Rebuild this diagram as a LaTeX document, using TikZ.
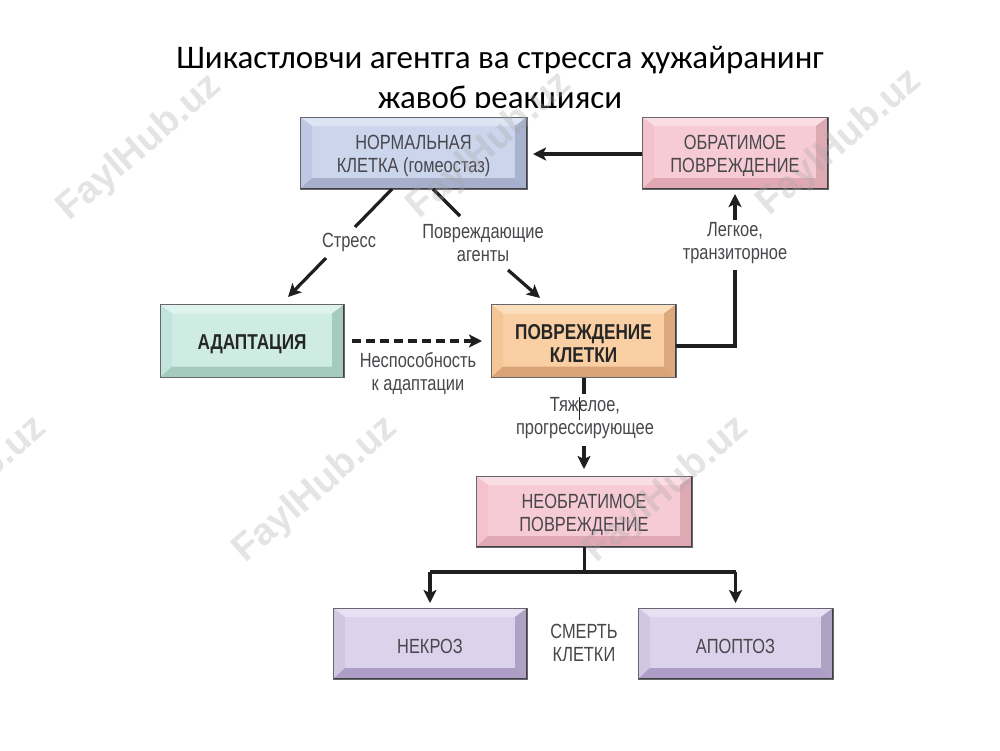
\documentclass[tikz,border=0pt]{standalone}
\usepackage{fontspec}
\setmainfont{Carlito}
\newfontfamily\lab[FakeStretch=0.8]{Liberation Sans}
\newfontfamily\wmfont{Liberation Sans}
\usetikzlibrary{arrows.meta}
\definecolor{txt}{HTML}{47474C}
\definecolor{edge}{HTML}{66666C}
\newcommand{\nudge}{\rule{0pt}{20.5pt}}
\tikzset{
  bevelbox/.style n args={7}{
    draw=edge, line width=1pt, inner sep=0pt, outer sep=0pt, align=center,
    minimum width=#1pt, minimum height=#2pt, fill=#3,
    font=\lab\fontsize{20.5}{23}\selectfont, text=txt,
    path picture={
      \coordinate (pnw) at (path picture bounding box.north west);
      \coordinate (pne) at (path picture bounding box.north east);
      \coordinate (psw) at (path picture bounding box.south west);
      \coordinate (pse) at (path picture bounding box.south east);
      \coordinate (inw) at ([shift={(12pt,-9pt)}]pnw);
      \coordinate (ine) at ([shift={(-12pt,-9pt)}]pne);
      \coordinate (isw) at ([shift={(12pt,11pt)}]psw);
      \coordinate (ise) at ([shift={(-12pt,11pt)}]pse);
      \fill[#4] (pnw) -- (pne) -- (ine) -- (inw) -- cycle;
      \fill[#5] (pnw) -- (psw) -- (isw) -- (inw) -- cycle;
      \fill[#6] (pne) -- (pse) -- (ise) -- (ine) -- cycle;
      \fill[#7] (psw) -- (pse) -- (ise) -- (isw) -- cycle;
      \draw[black!75, line width=1.8pt] (pne) -- (pse) -- (psw);
    }},
  bluebox/.style 2 args={bevelbox={#1}{#2}{blB}{blT}{blL}{blR}{blD}},
  pinkbox/.style 2 args={bevelbox={#1}{#2}{piB}{piT}{piL}{piR}{piD}},
  orangebox/.style 2 args={bevelbox={#1}{#2}{orB}{orT}{orL}{orR}{orD}},
  greenbox/.style 2 args={bevelbox={#1}{#2}{grB}{grT}{grL}{grR}{grD}},
  purplebox/.style 2 args={bevelbox={#1}{#2}{puB}{puT}{puL}{puR}{puD}},
  strong/.style={font=\lab\bfseries\fontsize{21.5}{23}\selectfont, text=black!85},
  labelnode/.style={font=\lab\fontsize{20.5}{23}\selectfont, text=txt, align=center, inner sep=0pt},
  titlenode/.style={font=\fontsize{33}{40}\selectfont, text=black, align=center, inner sep=0pt},
  conn/.style={draw=black!88, line width=3.2pt},
  arr/.style={conn, -{Stealth[length=13pt,width=13pt,inset=3pt]}},
  wmark/.style={font=\wmfont\bfseries\fontsize{38}{38}\selectfont, text=black!35, opacity=.3, rotate=41, inner sep=0pt},
}
\definecolor{blB}{HTML}{CBD5EC}\definecolor{blT}{HTML}{DDE4F3}\definecolor{blL}{HTML}{BEC8E2}\definecolor{blR}{HTML}{A9B2CF}\definecolor{blD}{HTML}{A6AFCC}
\definecolor{piB}{HTML}{F7CBD5}\definecolor{piT}{HTML}{FBDDE4}\definecolor{piL}{HTML}{F3C2CC}\definecolor{piR}{HTML}{DDA9B3}\definecolor{piD}{HTML}{E0A8B3}
\definecolor{orB}{HTML}{F9CFA3}\definecolor{orT}{HTML}{FBDEBC}\definecolor{orL}{HTML}{F3C698}\definecolor{orR}{HTML}{DCA87E}\definecolor{orD}{HTML}{DAA478}
\definecolor{grB}{HTML}{CFECE3}\definecolor{grT}{HTML}{DFF3ED}\definecolor{grL}{HTML}{C3E4DA}\definecolor{grR}{HTML}{A5CBBF}\definecolor{grD}{HTML}{A5CBBF}
\definecolor{puB}{HTML}{DDD2EB}\definecolor{puT}{HTML}{E8E1F3}\definecolor{puL}{HTML}{D2C6E2}\definecolor{puR}{HTML}{B0A2C4}\definecolor{puD}{HTML}{AE9DC6}
\begin{document}
\begin{tikzpicture}[x=1pt,y=-1pt]
\useasboundingbox (0,0) rectangle (1000,750);
\fill[white] (0,0) rectangle (1000,750);
\node[titlenode] (title) at (500,80) {Шикастловчи агентга ва стрессга ҳужайранинг\\жавоб реакцияси};
\fill[white] (250,108) rectangle (750,125);

\node[bluebox={227}{72}] (normal) at (413.5,153) {\nudge НОРМАЛЬНАЯ\\КЛЕТКА (гомеостаз)};
\node[pinkbox={186}{72}] (revers) at (735,153) {\nudge ОБРАТИМОЕ\\ПОВРЕЖДЕНИЕ};
\node[greenbox={184}{73}, strong] (adapt) at (252,341) {\nudge АДАПТАЦИЯ};
\node[orangebox={185}{73}, strong] (injury) at (583.5,341) {\nudge ПОВРЕЖДЕНИЕ\\КЛЕТКИ};
\node[pinkbox={216}{71}] (irrev) at (584,511.5) {\nudge НЕОБРАТИМОЕ\\ПОВРЕЖДЕНИЕ};
\node[purplebox={194}{71}] (necro) at (430,643.5) {\nudge НЕКРОЗ};
\node[purplebox={195}{71}] (apop) at (735.5,643.5) {\nudge АПОПТОЗ};

\node[labelnode] (lstress) at (349,242) {Стресс};
\node[labelnode] (lagents) at (483,243) {Повреждающие\\агенты};
\node[labelnode] (llight) at (735,243) {Легкое,\\транзиторное};
\node[labelnode] (lfail) at (418,374) {Неспособность\\к адаптации};
\node[labelnode] (lsevere) at (585,418.5) {Тяжелое,\\прогрессирующее};
\node[labelnode] (ldeath) at (584,643) {СМЕРТЬ\\КЛЕТКИ};

\coordinate (s1) at (392,189);
\coordinate (s2) at (355,227);
\coordinate (s3) at (326,258);
\coordinate (s4) at (288,297);
\coordinate (a1) at (433,189);
\coordinate (a2) at (460,216);
\coordinate (a3) at (508,270);
\coordinate (a4) at (540,298);
\coordinate (l1) at (735,270);
\coordinate (l2) at (735,220);
\coordinate (l3) at (735,194);
\coordinate (h1) at (533,154);
\coordinate (d1) at (482,341);
\coordinate (v1) at (584,394);
\coordinate (v2) at (584,446);
\coordinate (v3) at (584,469);
\coordinate (t1) at (579,397);
\coordinate (t2) at (579,420);
\coordinate (b1) at (584.5,572);
\coordinate (b2) at (430,572);
\coordinate (b3) at (735.5,572);
\coordinate (b4) at (430,603);
\coordinate (b5) at (735.5,603);

\draw[conn] (s1) -- (s2);
\draw[arr] (s3) -- (s4);
\draw[conn] (a1) -- (a2);
\draw[arr] (a3) -- (a4);
\draw[arr] (revers.west |- h1) -- (h1);
\draw[conn] (injury.east |- 0,346) -| (l1);
\draw[arr] (l2) -- (l3);
\draw[arr, dash pattern=on 9pt off 5pt] (adapt.east |- d1) ++(8,0) -- (d1);
\draw[conn] (injury.south -| v1) -- (v1);
\draw[arr] (v2) -- (v3);
\draw[line width=1pt, black!85] (t1) -- (t2);
\draw[conn] (irrev.south -| b1) -- (b1);
\draw[conn] (b2) -- (b3);
\draw[arr] (b2) -- (b4);
\draw[arr] (b3) -- (b5);

\node[wmark] (w1) at (140,148) {FaylHub.uz};
\node[wmark] (w2) at (490,146) {FaylHub.uz};
\node[wmark] (w3) at (840,143) {FaylHub.uz};
\node[wmark] (w4) at (-35,490) {FaylHub.uz};
\node[wmark] (w5) at (316,490) {FaylHub.uz};
\node[wmark] (w6) at (667,490) {FaylHub.uz};
\end{tikzpicture}
\end{document}
